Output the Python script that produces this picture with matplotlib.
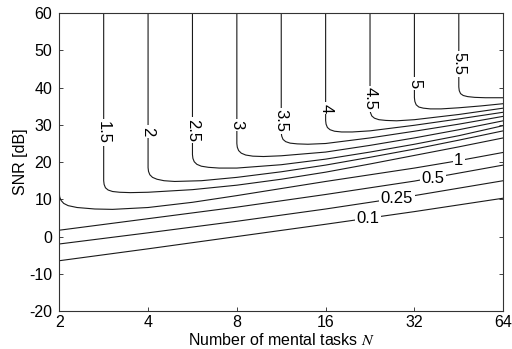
import matplotlib
matplotlib.use("Agg")
import matplotlib.pyplot as plt
import numpy as np

plt.rcParams["font.family"] = ["Liberation Sans", "DejaVu Sans"]
plt.rcParams["mathtext.fontset"] = "stix"
plt.rcParams["axes.unicode_minus"] = False

# contour levels (bits per selection) and the points
# x values are log2 of the number of tasks N, y values are SNR in dB
levels = ["0.1", "0.25", "0.5", "1", "1.5", "2", "2.5", "3", "3.5", "4", "4.5", "5", "5.5"]

line_log2n = {
    "0.1": [1, 2, 3, 4, 5, 6],
    "0.25": [1, 2, 3, 4, 5, 6],
    "0.5": [1, 2, 3, 4, 5, 6],
    "1": [1, 1.005, 1.02, 1.05, 1.1, 1.2, 1.4, 1.6, 2, 2.5, 3, 3.5, 4, 4.5, 5, 5.5, 6],
    "1.5": [1.5, 1.5, 1.505, 1.52, 1.55, 1.6, 1.68, 1.8, 2, 2.5, 3, 3.5, 4, 4.5, 5, 5.5, 6],
    "2": [2, 2, 2.005, 2.02, 2.05, 2.1, 2.18, 2.3, 2.6, 3, 3.5, 4, 4.5, 5, 5.5, 6],
    "2.5": [2.5, 2.5, 2.505, 2.52, 2.55, 2.6, 2.68, 2.8, 3, 3.5, 4, 4.5, 5, 5.5, 6],
    "3": [3, 3, 3.005, 3.02, 3.05, 3.1, 3.18, 3.3, 3.5, 4, 4.5, 5, 5.5, 6],
    "3.5": [3.5, 3.5, 3.505, 3.52, 3.55, 3.6, 3.68, 3.8, 4, 4.5, 5, 5.5, 6],
    "4": [4, 4, 4.005, 4.02, 4.05, 4.1, 4.18, 4.3, 4.5, 5, 5.5, 6],
    "4.5": [4.5, 4.5, 4.505, 4.52, 4.55, 4.6, 4.68, 4.8, 5, 5.5, 6],
    "5": [5, 5, 5.005, 5.02, 5.05, 5.1, 5.18, 5.3, 5.5, 5.75, 6],
    "5.5": [5.5, 5.5, 5.505, 5.52, 5.55, 5.6, 5.68, 5.8, 6],
}

line_snr = {
    "0.1": [-6.5, -3.3, 0.0, 3.3, 6.7, 10.3],
    "0.25": [-2.0, 1.0, 4.1, 7.4, 11.0, 15.0],
    "0.5": [1.7, 4.8, 7.9, 11.3, 14.9, 19.2],
    "1": [11.5, 10.6, 9.7, 8.9, 8.3, 7.8, 7.4, 7.3, 7.8, 9.2, 11.0, 12.9, 14.8, 16.6, 18.4, 20.4, 22.6],
    "1.5": [60, 15.0, 14.0, 13.1, 12.5, 12.1, 11.9, 11.8, 11.9, 12.6, 13.8, 15.4, 17.3, 19.5, 21.8, 24.1, 26.5],
    "2": [60, 18.5, 17.5, 16.6, 15.9, 15.4, 15.0, 14.8, 15.0, 15.9, 17.4, 19.2, 21.3, 23.5, 25.9, 28.4],
    "2.5": [60, 22.0, 21.0, 20.1, 19.4, 18.9, 18.6, 18.4, 18.4, 19.3, 20.8, 22.7, 24.8, 27.1, 29.8],
    "3": [60, 25.0, 24.0, 23.1, 22.4, 21.9, 21.6, 21.5, 21.7, 22.7, 24.5, 26.5, 28.7, 31.1],
    "3.5": [60, 28.0, 27.0, 26.1, 25.5, 25.1, 24.9, 24.8, 25.0, 26.5, 28.3, 30.2, 32.3],
    "4": [60, 31.2, 30.2, 29.3, 28.7, 28.3, 28.1, 28.1, 28.4, 29.9, 31.6, 33.4],
    "4.5": [60, 34.3, 33.3, 32.4, 31.8, 31.4, 31.2, 31.1, 31.4, 32.8, 34.5],
    "5": [60, 37.3, 36.3, 35.4, 34.8, 34.5, 34.3, 34.3, 34.6, 35.1, 35.7],
    "5.5": [60, 40.2, 39.2, 38.4, 37.9, 37.6, 37.4, 37.3, 37.3],
}

# where the inline labels sit (log2 N, SNR dB)
label_pos = {
    "0.1": (4.48, 4.9),
    "0.25": (4.80, 10.3),
    "0.5": (5.21, 15.6),
    "1": (5.50, 20.3),
    "1.5": (1.5, 28.0),
    "2": (2.0, 28.2),
    "2.5": (2.5, 28.6),
    "3": (3.0, 30.0),
    "3.5": (3.5, 31.1),
    "4": (4.0, 34.5),
    "4.5": (4.5, 37.0),
    "5": (5.0, 41.2),
    "5.5": (5.5, 46.4),
}

x_ticks = [2, 4, 8, 16, 32, 64]
y_ticks = [-20, -10, 0, 10, 20, 30, 40, 50, 60]

fig = plt.figure(figsize=(5.12, 3.49), dpi=100)
ax = fig.add_axes([0.1158, 0.109, 0.867, 0.853])

for lev in levels:
    n_vals = 2.0 ** np.array(line_log2n[lev])
    ax.plot(n_vals, line_snr[lev], color="#1a1a1a", lw=0.8, zorder=2)
    lx, ly = label_pos[lev]
    rot = 270 if float(lev) >= 1.5 else 0
    ax.text(2.0 ** lx, ly, lev, fontsize=12, rotation=rot,
            ha="center", va="center", rotation_mode="anchor", zorder=3,
            bbox={"facecolor": "white", "edgecolor": "none", "pad": 1.2})

ax.set_xscale("log", base=2)
ax.set_xlim(2, 64)
ax.set_ylim(-20, 60)
ax.set_xticks(x_ticks)
ax.set_xticklabels([str(t) for t in x_ticks])
ax.set_yticks(y_ticks)
ax.minorticks_off()
ax.tick_params(direction="in", length=3, width=0.6, labelsize=11.5,
               right=True, top=False, colors="#222222", labelcolor="black")
ax.tick_params(axis="y", pad=5)
ax.tick_params(axis="x", pad=3)
for sp in ax.spines.values():
    sp.set_linewidth(0.8)
    sp.set_color("#333333")

ax.set_xlabel("Number of mental tasks $N$", fontsize=11.5, labelpad=1)
ax.set_ylabel("SNR [dB]", fontsize=11.5, labelpad=1)

fig.savefig("out.png", dpi=100)
